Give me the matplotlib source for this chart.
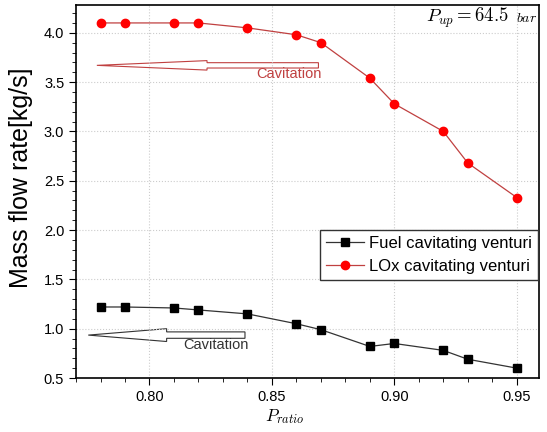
import numpy as np
import matplotlib
matplotlib.use('Agg')
import matplotlib.pyplot as plt
from matplotlib.patches import FancyArrow
from matplotlib.ticker import MultipleLocator

plt.rcParams['font.family'] = ['Liberation Sans', 'DejaVu Sans']
plt.rcParams['mathtext.fontset'] = 'cm'

# data
p_ratio = [0.78, 0.79, 0.81, 0.82, 0.84, 0.86, 0.87, 0.89, 0.90, 0.92, 0.93, 0.95]
fuel = [1.22, 1.22, 1.21, 1.19, 1.15, 1.05, 0.99, 0.82, 0.85, 0.78, 0.69, 0.60]
lox = [4.10, 4.10, 4.10, 4.10, 4.05, 3.98, 3.90, 3.54, 3.28, 3.00, 2.68, 2.33]

fig = plt.figure(figsize=(5.47, 4.32), dpi=100)
ax = fig.add_axes([0.139, 0.125, 0.846, 0.863])

ax.plot(p_ratio, fuel, color='#333333', lw=0.9, marker='s', ms=5.5,
        mfc='black', mec='black', label='Fuel cavitating venturi')
ax.plot(p_ratio, lox, color='#c04040', lw=0.9, marker='o', ms=6,
        mfc='#ff0000', mec='#ff0000', label='LOx cavitating venturi')

# hollow arrows marking cavitation
ax.add_patch(FancyArrow(0.869, 3.67, 0.7785 - 0.869, 0, width=0.054,
                        head_width=0.096, head_length=0.045,
                        length_includes_head=True, fc='white', ec='#c04040', lw=0.8))
ax.text(0.857, 3.585, 'Cavitation', color='#c04040', fontsize=10.5, ha='center', va='center')
ax.add_patch(FancyArrow(0.839, 0.935, 0.775 - 0.839, 0, width=0.065,
                        head_width=0.13, head_length=0.032,
                        length_includes_head=True, fc='white', ec='#333333', lw=0.8))
ax.text(0.827, 0.835, 'Cavitation', color='#333333', fontsize=10.5, ha='center', va='center')

ax.text(0.9467, 4.275, r'$P_{up} = 64.5$', ha='right', va='top', fontsize=13.5)
ax.text(0.9585, 4.225, r'$bar$', ha='right', va='top', fontsize=10)

ax.set_xlim(0.77, 0.959)
ax.set_ylim(0.5, 4.28)
ax.xaxis.set_major_locator(MultipleLocator(0.05))
ax.xaxis.set_minor_locator(MultipleLocator(0.01))
ax.yaxis.set_major_locator(MultipleLocator(0.5))
ax.yaxis.set_minor_locator(MultipleLocator(0.1))
ax.set_xticks([0.80, 0.85, 0.90, 0.95])
ax.set_xticklabels(['0.80', '0.85', '0.90', '0.95'])
ax.tick_params(which='both', direction='out', labelsize=10.5)
ax.tick_params(which='major', length=5)
ax.tick_params(which='minor', length=3)
ax.grid(True, which='major', ls=':', color='#cccccc', lw=0.8)
for s in ax.spines.values():
    s.set_linewidth(1.2)

ax.set_xlabel(r'$P_{ratio}$', fontsize=12.5, labelpad=2, x=0.45)
ax.set_ylabel('Mass flow rate[kg/s]', fontsize=18, labelpad=8, y=0.536)

leg = ax.legend(loc='upper right', bbox_to_anchor=(0.998, 0.397), fontsize=12,
                fancybox=False, framealpha=1, edgecolor='#333333',
                borderpad=0.35, handlelength=2.3, handletextpad=0.3, borderaxespad=0.0)

plt.savefig('out.png', dpi=100)
